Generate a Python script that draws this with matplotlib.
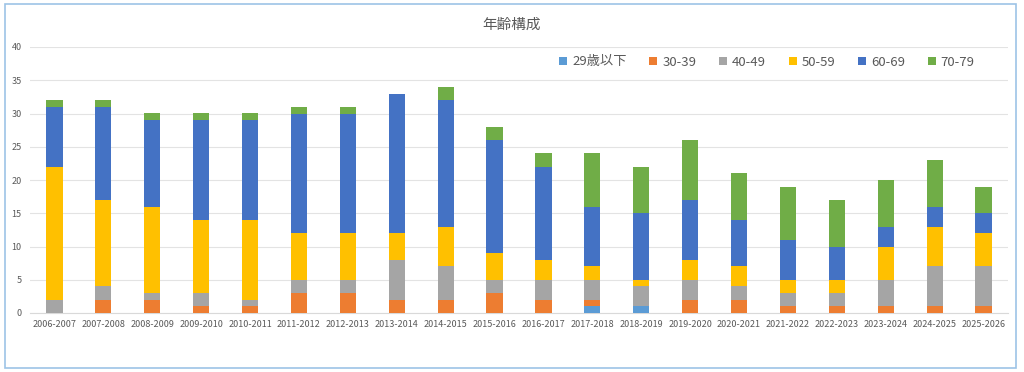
import matplotlib
matplotlib.use("Agg")
import matplotlib.pyplot as plt
from matplotlib.patches import Rectangle
import numpy as np

plt.rcParams['font.family'] = ['Noto Sans CJK JP', 'DejaVu Sans']

categories = ["2006-2007", "2007-2008", "2008-2009", "2009-2010", "2010-2011",
              "2011-2012", "2012-2013", "2013-2014", "2014-2015", "2015-2016",
              "2016-2017", "2017-2018", "2018-2019", "2019-2020", "2020-2021",
              "2021-2022", "2022-2023", "2023-2024", "2024-2025", "2025-2026"]
age_29 = [0, 0, 0, 0, 0, 0, 0, 0, 0, 0, 0, 1, 1, 0, 0, 0, 0, 0, 0, 0]
age_30s = [0, 2, 2, 1, 1, 3, 3, 2, 2, 3, 2, 1, 0, 2, 2, 1, 1, 1, 1, 1]
age_40s = [2, 2, 1, 2, 1, 2, 2, 6, 5, 2, 3, 3, 3, 3, 2, 2, 2, 4, 6, 6]
age_50s = [20, 13, 13, 11, 12, 7, 7, 4, 6, 4, 3, 2, 1, 3, 3, 2, 2, 5, 6, 5]
age_60s = [9, 14, 13, 15, 15, 18, 18, 21, 19, 17, 14, 9, 10, 9, 7, 6, 5, 3, 3, 3]
age_70s = [1, 1, 1, 1, 1, 1, 1, 0, 2, 2, 2, 8, 7, 9, 7, 8, 7, 7, 7, 4]
series_names = ["29歳以下", "30-39", "40-49", "50-59", "60-69", "70-79"]
colors = ["#5B9BD5", "#ED7D31", "#A5A5A5", "#FFC000", "#4472C4", "#70AD47"]

W, H = 1024, 372
fig = plt.figure(figsize=(W / 100, H / 100), dpi=100)
fig.patch.set_facecolor("white")
fig.add_artist(Rectangle((5 / W, 4 / H), 1011 / W, 364 / H, transform=fig.transFigure,
                         fill=False, edgecolor="#9DC3E6", linewidth=1.2))

ax = fig.add_axes([30 / W, (H - 313) / H, 978 / W, 266 / H])
x = np.arange(len(categories))
bottom = np.zeros(len(categories))
data = [age_29, age_30s, age_40s, age_50s, age_60s, age_70s]
for name, vals, c in zip(series_names, data, colors):
    v = np.array(vals, dtype=float)
    ax.bar(x, v, bottom=bottom, width=0.33, color=c, label=name, zorder=3)
    bottom += v

ax.set_xlim(-0.5, len(categories) - 0.5)
ax.set_ylim(0, 40)
ax.set_yticks(range(0, 41, 5))
ax.yaxis.grid(True, color="#E3E3E3", linewidth=0.8, zorder=0)
ax.set_xticks(x)
ax.set_xticklabels(categories)
ax.tick_params(axis="both", length=0, labelsize=6.5, labelcolor="#595959")
ax.tick_params(axis="y", pad=6)
ax.tick_params(axis="x", pad=5)
for s in ["top", "right", "left"]:
    ax.spines[s].set_visible(False)
ax.spines["bottom"].set_color("#D9D9D9")

fig.text(512 / W, (H - 25) / H, "年齢構成", ha="center", va="center",
         fontsize=10.5, color="#595959")

leg = ax.legend(loc="center", bbox_to_anchor=(767 / W, (H - 62) / H),
                bbox_transform=fig.transFigure, ncol=6, frameon=False,
                fontsize=9.5, handlelength=0.6, handleheight=0.6,
                columnspacing=1.7, handletextpad=0.4)
for t in leg.get_texts():
    t.set_color("#595959")

fig.savefig("out.png", dpi=100, facecolor="white")
